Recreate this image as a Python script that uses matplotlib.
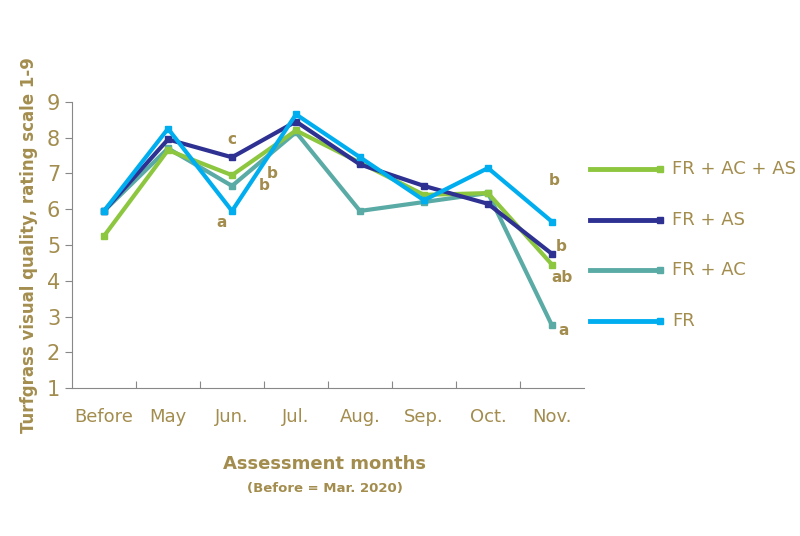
import matplotlib.pyplot as plt
from matplotlib.lines import Line2D

months = ["Before", "May", "Jun.", "Jul.", "Aug.", "Sep.", "Oct.", "Nov."]
fr_ac_as = [5.25, 7.65, 6.95, 8.2, 7.3, 6.4, 6.45, 4.45]
fr_as = [5.95, 7.95, 7.45, 8.45, 7.25, 6.65, 6.15, 4.75]
fr_ac = [5.95, 7.7, 6.65, 8.15, 5.95, 6.2, 6.45, 2.75]
fr = [5.95, 8.25, 5.95, 8.65, 7.45, 6.25, 7.15, 5.65]
series_names = ["FR + AC + AS", "FR + AS", "FR + AC", "FR"]
# (x index, y value, letter)
letters = [(2, 7.96, "c"), (2.5, 6.65, "b"), (2.63, 7.0, "b"), (1.83, 5.64, "a"),
           (7.03, 6.8, "b"), (7.15, 4.95, "b"), (7.15, 4.1, "ab"), (7.18, 2.62, "a")]

gold = "#a38d4e"
colors = ["#8dc63f", "#2e3192", "#5aaba5", "#00aeef"]

fig = plt.figure(figsize=(8, 5.36), dpi=100)
ax = fig.add_axes([0.09, 0.276, 0.64, 0.534])
x = range(len(months))
for vals, c in [(fr_ac, colors[2]), (fr_ac_as, colors[0]), (fr_as, colors[1]), (fr, colors[3])]:
    ax.plot(x, vals, color=c, lw=3, marker="s", ms=4)

for xi, yi, t in letters:
    ax.text(xi, yi, t, color=gold, fontsize=11, ha="center", va="center", fontweight="bold")

ax.set_xlim(-0.5, 7.5)
ax.set_ylim(1, 9)
ax.set_yticks(range(1, 10))
ax.set_xticks([i + 0.5 for i in range(7)])
ax.set_xticklabels([])
ax.tick_params(axis="x", direction="in", length=5, color="#888888")
ax.tick_params(axis="y", length=5, color="#888888", labelcolor=gold, labelsize=15)
for i, m in enumerate(months):
    ax.text(i, 0.2, m, color=gold, fontsize=13, ha="center", va="center")
for s in ["top", "right"]:
    ax.spines[s].set_visible(False)
for s in ["left", "bottom"]:
    ax.spines[s].set_color("#888888")
ax.set_ylabel("Turfgrass visual quality, rating scale 1-9", color=gold, fontsize=12,
              fontweight="bold", labelpad=6)
fig.text(0.406, 0.125, "Assessment months", color=gold, fontsize=13, fontweight="bold", ha="center")
fig.text(0.406, 0.083, "(Before = Mar. 2020)", color=gold, fontsize=9.5, fontweight="bold", ha="center")

for i, (name, c) in enumerate(zip(series_names, colors)):
    yy = 1 - (169 + i * 50.7) / 536
    fig.add_artist(Line2D([0.738, 0.825], [yy, yy], color=c, lw=3.5, marker="s", ms=4,
                          markevery=[1], transform=fig.transFigure))
    fig.text(0.84, yy, name, color=gold, fontsize=13, va="center")

fig.savefig("out.png")
